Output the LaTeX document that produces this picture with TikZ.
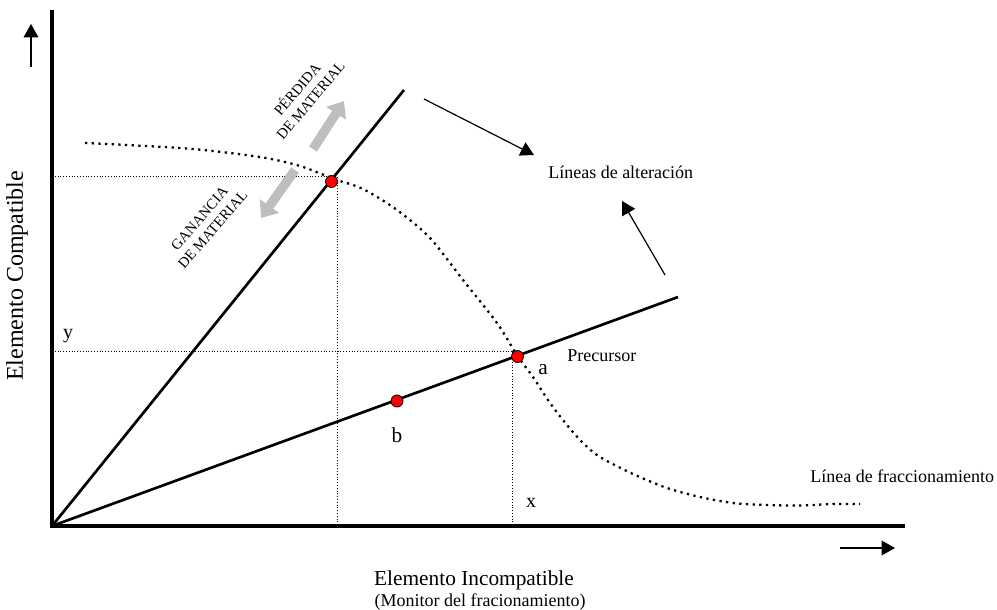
\documentclass[tikz,border=0pt]{standalone}
\usepackage{fontspec}
\setmainfont{Liberation Serif}
\usetikzlibrary{arrows.meta}
\definecolor{arrowgray}{RGB}{190,190,190}
\begin{document}
\begin{tikzpicture}[x=0.75pt,y=-0.75pt,
  axis/.style={line width=3pt},
  refline/.style={line width=2pt},
  guide/.style={line width=0.6pt, dash pattern=on 0.7pt off 1.4pt},
  frac/.style={line width=1.7pt, dash pattern=on 1.7pt off 3.3pt},
  dotmark/.style={circle, fill=red, draw=black, line width=0.6pt, inner sep=0pt, minimum size=9pt},
  grayarrow/.style={line width=7pt, draw=arrowgray, -{Triangle[width=17pt,length=11pt]}},
  thinarrow/.style={line width=0.9pt, -{Triangle[width=11pt,length=10pt]}},
  lbl/.style={font=\fontsize{13.5}{16}\selectfont, inner sep=0pt},
  rotlbl/.style={font=\fontsize{11}{13}\selectfont, inner sep=0pt, align=center}
]
\useasboundingbox (0,0) rectangle (997,610);

% coordinates
\coordinate (O) at (52,526);
\coordinate (ytop) at (52,10);
\coordinate (xend) at (905,526);
\coordinate (steepend) at (404,90);
\coordinate (shallowend) at (678,297);

% axes
\draw[axis] (ytop) -- (O) -- (xend);

% reference lines
\draw[refline] (O) -- (steepend);
\draw[refline] (O) -- (shallowend);

% guide lines
\coordinate (g1) at (337,176.5);
\coordinate (g2) at (512,351.5);
\coordinate (g1y) at (52,176.5);
\coordinate (g1x) at (337,526);
\coordinate (g2y) at (52,351.5);
\coordinate (g2x) at (512,526);
\draw[guide] (g1y) -- (g1) -- (g1x);
\draw[guide] (g2y) -- (g2) -- (g2x);

% fractionation curve
\draw[frac] plot[smooth, tension=0.5] coordinates {
 (85,143) (127,145) (193,149) (260,157) (300,166) (334,179) (363,189)
 (397,210) (430,238) (463,280) (497,323) (517.5,356) (533,377) (550,403)
 (567,425) (583,443) (600,457) (633,474) (667,488) (700,497) (733,503)
 (767,505) (800,505.5) (833,504) (860,504)};

% points
\node[dotmark] (p1) at (331.5,181.5) {};
\node[dotmark] (pa) at (517.5,356.5) {};
\node[dotmark] (pb) at (397,401) {};

% gray arrows
\coordinate (ga1s) at (313,149);
\coordinate (ga1e) at (344,101);
\coordinate (ga2s) at (295,170);
\coordinate (ga2e) at (261,218);
\draw[grayarrow] (ga1s) -- (ga1e);
\draw[grayarrow] (ga2s) -- (ga2e);

% alteration arrows
\coordinate (aa1s) at (424,99);
\coordinate (aa1e) at (534,155);
\coordinate (aa2s) at (665,275);
\coordinate (aa2e) at (622,201);
\draw[thinarrow] (aa1s) -- (aa1e);
\draw[thinarrow] (aa2s) -- (aa2e);

% axis direction arrows
\coordinate (ua1) at (31,67);
\coordinate (ua2) at (31,24);
\coordinate (ra1) at (840,548);
\coordinate (ra2) at (895,548);
\draw[thinarrow] (ua1) -- (ua2);
\draw[thinarrow] (ra1) -- (ra2);

% labels
\node[lbl, anchor=west] (lalt) at (548,172) {Líneas de alteración};
\node[lbl, anchor=west] (lprec) at (567,356) {Precursor};
\node[lbl, font=\fontsize{16}{18}\selectfont] (la) at (543,370) {a};
\node[lbl, font=\fontsize{16}{18}\selectfont] (lb) at (397,435) {b};
\node[lbl, font=\fontsize{15}{18}\selectfont] (ly) at (68,336) {y};
\node[lbl, font=\fontsize{15}{18}\selectfont] (lx) at (531,503) {x};
\node[lbl, anchor=west] (lfrac) at (810,476) {Línea de fraccionamiento};
\node[lbl, font=\fontsize{16}{19}\selectfont] (lxi) at (474,580) {Elemento Incompatible};
\node[lbl] (lmon) at (480,602) {(Monitor del fracionamiento)};
\node[lbl, font=\fontsize{18}{21}\selectfont, rotate=90] (lyc) at (17,276) {Elemento Compatible};
\node[rotlbl, rotate=50] (lperd) at (303,94) {PÉRDIDA\\DE MATERIAL};
\node[rotlbl, rotate=49] (lgan) at (206,224) {GANANCIA\\DE MATERIAL};
\end{tikzpicture}
\end{document}
